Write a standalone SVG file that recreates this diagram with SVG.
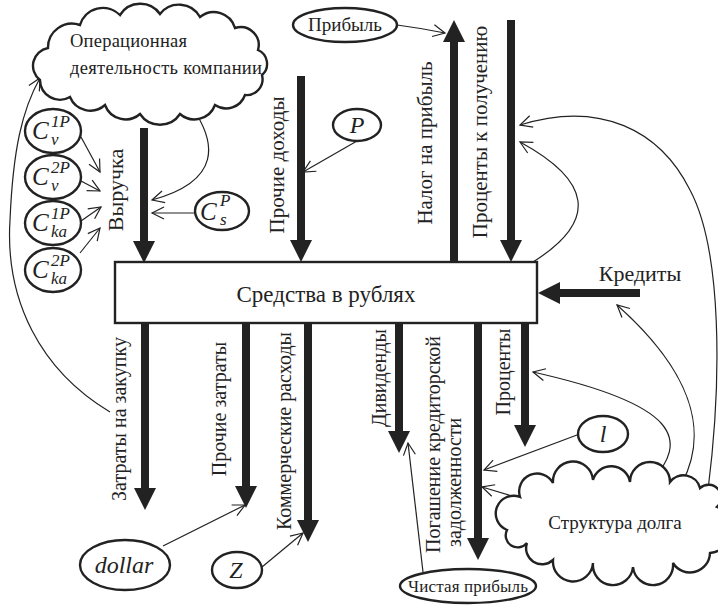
<svg xmlns="http://www.w3.org/2000/svg" width="718" height="608" viewBox="0 0 718 608">
<defs>
<marker id="head" markerUnits="userSpaceOnUse" markerWidth="24" markerHeight="24" viewBox="0 -12 23 24" refX="0" refY="0" orient="auto">
<path d="M0,-11 L22,0 L0,11 Z" fill="#222" stroke="none"/>
</marker>
<marker id="open" markerUnits="userSpaceOnUse" markerWidth="16" markerHeight="16" viewBox="-14 -8 16 16" refX="0" refY="0" orient="auto">
<path d="M-12,-6 L0,0 L-12,6" fill="none" stroke="#222" stroke-width="1.2"/>
</marker>
</defs>
<rect width="718" height="608" fill="#fff"/>

<g id="connectors" fill="none" stroke="#222">
<g id="flows" stroke-width="8" marker-end="url(#head)">
<line x1="144" y1="128" x2="144" y2="241"/>
<line x1="301" y1="76" x2="301" y2="240"/>
<line x1="454" y1="262" x2="454" y2="42"/>
<line x1="511" y1="20" x2="511" y2="240"/>
<line x1="640" y1="293" x2="560" y2="293"/>
<line x1="145" y1="323" x2="145" y2="488"/>
<line x1="246" y1="323" x2="246" y2="486"/>
<line x1="308" y1="323" x2="308" y2="520"/>
<line x1="399" y1="323" x2="399" y2="431"/>
<line x1="478" y1="323" x2="478" y2="538"/>
<line x1="525" y1="323" x2="525" y2="425"/>
</g>
<g id="influences" stroke-width="1.2" marker-end="url(#open)">
<path d="M397,25 Q420,28 445,33"/>
<path d="M357,141 L303,172"/>
<path d="M81,137 L100,172"/>
<path d="M81,181 L100,191"/>
<path d="M81,221 L101,207"/>
<path d="M80,253 L100,228"/>
<path d="M195,213 L152,213"/>
<path d="M197,115 C212,140 225,180 152,200"/>
<path d="M110,412 C40,370 5,300 10,220 C13,150 22,110 40,78"/>
<path d="M163,546 L245,505"/>
<path d="M262,567 L303,533"/>
<path d="M577,435 L484,470"/>
<path d="M525,500 L482,487"/>
<path d="M423,572 L408,443"/>
<path d="M650,483 C690,440 680,405 533,372"/>
<path d="M682,483 C710,430 690,370 617,305"/>
<path d="M708,490 C722,380 722,250 690,190 C660,130 600,100 520,125"/>
<path d="M533,262 C600,220 590,180 520,142"/>
</g>
</g>

<g id="nodes" fill="#fff" stroke="#222" stroke-width="2.4">
<g id="main">
<rect x="115" y="262" width="422" height="61"/>
<text x="326" y="302" font-family="Liberation Serif" font-size="23" text-anchor="middle" fill="#222" stroke="none">Средства в рублях</text>
</g>

<g id="op-cloud">
<path d="M40,80 A18,18 0 0 1 48,48 A24,24 0 0 1 80,25 A24,24 0 0 1 120,15 A24,24 0 0 1 160,14 A24,24 0 0 1 200,17 A22,22 0 0 1 235,28 A18,18 0 0 1 258,50 A15,15 0 0 1 262,75 A16,16 0 0 1 245,95 A20,20 0 0 1 215,105 A22,22 0 0 1 180,114 A24,24 0 0 1 140,114 A22,22 0 0 1 105,105 A22,22 0 0 1 70,97 A20,20 0 0 1 40,80 Z"/>
<text x="70" y="47" font-family="Liberation Serif" font-size="18.5" textLength="117" fill="#222" stroke="none">Операционная</text>
<text x="70" y="74" font-family="Liberation Serif" font-size="18.5" textLength="192" fill="#222" stroke="none">деятельность компании</text>
</g>

<g id="cv1p">
<ellipse cx="53" cy="131" rx="28" ry="22"/>
<text x="32" y="139" font-family="Liberation Serif" font-style="italic" font-size="25" fill="#222" stroke="none">C</text>
<text x="51" y="127" font-family="Liberation Serif" font-style="italic" font-size="17" fill="#222" stroke="none">1P</text>
<text x="51" y="145" font-family="Liberation Serif" font-style="italic" font-size="17" fill="#222" stroke="none">v</text>
</g>
<g id="cv2p">
<ellipse cx="53" cy="177" rx="28" ry="22"/>
<text x="32" y="185" font-family="Liberation Serif" font-style="italic" font-size="25" fill="#222" stroke="none">C</text>
<text x="51" y="173" font-family="Liberation Serif" font-style="italic" font-size="17" fill="#222" stroke="none">2P</text>
<text x="51" y="191" font-family="Liberation Serif" font-style="italic" font-size="17" fill="#222" stroke="none">v</text>
</g>
<g id="cka1p">
<ellipse cx="53" cy="223" rx="28" ry="22"/>
<text x="32" y="231" font-family="Liberation Serif" font-style="italic" font-size="25" fill="#222" stroke="none">C</text>
<text x="51" y="219" font-family="Liberation Serif" font-style="italic" font-size="17" fill="#222" stroke="none">1P</text>
<text x="51" y="237" font-family="Liberation Serif" font-style="italic" font-size="17" fill="#222" stroke="none">ka</text>
</g>
<g id="cka2p">
<ellipse cx="53" cy="270" rx="28" ry="22"/>
<text x="32" y="278" font-family="Liberation Serif" font-style="italic" font-size="25" fill="#222" stroke="none">C</text>
<text x="51" y="266" font-family="Liberation Serif" font-style="italic" font-size="17" fill="#222" stroke="none">2P</text>
<text x="51" y="284" font-family="Liberation Serif" font-style="italic" font-size="17" fill="#222" stroke="none">ka</text>
</g>
<g id="csp">
<ellipse cx="222" cy="211" rx="27" ry="19"/>
<text x="200" y="220" font-family="Liberation Serif" font-style="italic" font-size="25" fill="#222" stroke="none">C</text>
<text x="220" y="206" font-family="Liberation Serif" font-style="italic" font-size="17" fill="#222" stroke="none">P</text>
<text x="220" y="225" font-family="Liberation Serif" font-style="italic" font-size="17" fill="#222" stroke="none">s</text>
</g>
<g id="p">
<ellipse cx="357" cy="125" rx="24" ry="16"/>
<text x="357" y="133" font-family="Liberation Serif" font-style="italic" font-size="24" text-anchor="middle" fill="#222" stroke="none">P</text>
</g>
<g id="profit">
<ellipse cx="345" cy="25" rx="52" ry="17"/>
<text x="345" y="31" font-family="Liberation Serif" font-size="19" text-anchor="middle" fill="#222" stroke="none">Прибыль</text>
</g>
<g id="dollar">
<ellipse cx="125" cy="565" rx="45" ry="25"/>
<text x="124" y="573" font-family="Liberation Serif" font-style="italic" font-size="24" text-anchor="middle" fill="#222" stroke="none">dollar</text>
</g>
<g id="z">
<ellipse cx="237" cy="570" rx="25" ry="18"/>
<text x="236" y="578" font-family="Liberation Serif" font-style="italic" font-size="24" text-anchor="middle" fill="#222" stroke="none">Z</text>
</g>
<g id="l">
<ellipse cx="603" cy="434" rx="25" ry="18"/>
<text x="603" y="442" font-family="Liberation Serif" font-style="italic" font-size="24" text-anchor="middle" fill="#222" stroke="none">l</text>
</g>
<g id="net-profit">
<ellipse cx="468" cy="586" rx="68" ry="17"/>
<text x="468" y="592" font-family="Liberation Serif" font-size="17" textLength="120" text-anchor="middle" fill="#222" stroke="none">Чистая прибыль</text>
</g>
<g id="debt-cloud">
<path d="M507,530 A14,14 0 0 1 520,497 A18,18 0 0 1 553,483 A20,20 0 0 1 593,480 A19,19 0 0 1 630,482 A20,20 0 0 1 670,482 A17,17 0 0 1 700,488 A12,12 0 0 1 717,507 A24,24 0 0 1 710,553 A20,20 0 0 1 673,563 A20,20 0 0 1 633,567 A20,20 0 0 1 593,563 A20,20 0 0 1 553,560 A16,16 0 0 1 527,543 A12,12 0 0 1 507,530 Z"/>
<text x="615" y="529" font-family="Liberation Serif" font-size="19" text-anchor="middle" fill="#222" stroke="none">Структура долга</text>
</g>
</g>

<g id="labels" fill="#222">
<text font-family="Liberation Serif" font-size="22" text-anchor="middle" transform="translate(123,190) rotate(-90)">Выручка</text>
<text font-family="Liberation Serif" font-size="21" text-anchor="middle" transform="translate(284,165) rotate(-90)">Прочие доходы</text>
<text font-family="Liberation Serif" font-size="21" text-anchor="middle" transform="translate(432,143) rotate(-90)">Налог на прибыль</text>
<text font-family="Liberation Serif" font-size="21" text-anchor="middle" transform="translate(487,132) rotate(-90)">Проценты к получению</text>
<text font-family="Liberation Serif" font-size="22" x="640" y="281" text-anchor="middle">Кредиты</text>
<text font-family="Liberation Serif" font-size="20" text-anchor="middle" transform="translate(126,419) rotate(-90)">Затраты на закупку</text>
<text font-family="Liberation Serif" font-size="20" text-anchor="middle" transform="translate(226,409) rotate(-90)">Прочие затраты</text>
<text font-family="Liberation Serif" font-size="20" text-anchor="middle" transform="translate(291,431) rotate(-90)">Коммерческие расходы</text>
<text font-family="Liberation Serif" font-size="20" text-anchor="middle" transform="translate(386,378) rotate(-90)">Дивиденды</text>
<text font-family="Liberation Serif" font-size="20" transform="translate(440,553) rotate(-90)">Погашение кредиторской</text>
<text font-family="Liberation Serif" font-size="20" transform="translate(461,547) rotate(-90)">задолженности</text>
<text font-family="Liberation Serif" font-size="20" text-anchor="middle" transform="translate(510,372) rotate(-90)">Проценты</text>
</g>
</svg>
